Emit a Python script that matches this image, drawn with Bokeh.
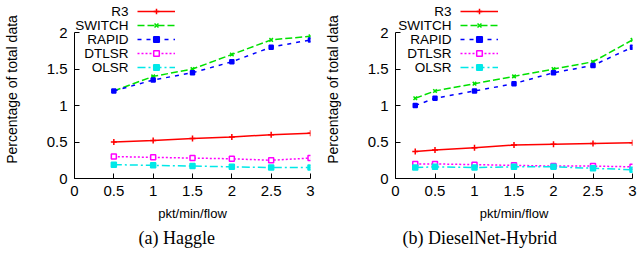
from bokeh.plotting import figure
from bokeh.layouts import row
from bokeh.models import (Range1d, FixedTicker, Legend, LegendItem, Label, Title,
                          CustomJSTickFormatter)
from bokeh.embed import file_html
from bokeh.resources import INLINE

# ---------------- data ----------------
series_names = ["R3", "SWITCH", "RAPID", "DTLSR", "OLSR"]

haggle_x = [0.5, 1, 1.5, 2, 2.5, 3]
haggle_r3 = [0.50, 0.52, 0.55, 0.57, 0.60, 0.62]
haggle_switch = [1.20, 1.40, 1.50, 1.70, 1.90, 1.95]
haggle_rapid = [1.20, 1.35, 1.45, 1.60, 1.80, 1.90]
haggle_dtlsr = [0.30, 0.29, 0.28, 0.27, 0.25, 0.28]
haggle_olsr = [0.19, 0.18, 0.17, 0.16, 0.15, 0.15]

diesel_x = [0.25, 0.5, 1, 1.5, 2, 2.5, 3]
diesel_r3 = [0.37, 0.39, 0.42, 0.46, 0.47, 0.48, 0.49]
diesel_switch = [1.10, 1.20, 1.30, 1.40, 1.50, 1.60, 1.90]
diesel_rapid = [1.00, 1.10, 1.20, 1.30, 1.45, 1.55, 1.80]
diesel_dtlsr = [0.20, 0.20, 0.19, 0.18, 0.17, 0.17, 0.16]
diesel_olsr = [0.15, 0.16, 0.15, 0.16, 0.16, 0.14, 0.12]

x_ticks = [0, 0.5, 1, 1.5, 2, 2.5, 3]
x_tick_labels = ["0", "0.5", "1", "1.5", "2", "2.5", "3"]
y_ticks = [0, 0.5, 1, 1.5, 2]
y_tick_labels = ["0", "0.5", "1", "1.5", "2"]

x_label = "pkt/min/flow"
y_label = "Percentage of total data"
captions = ["(a) Haggle", "(b) DieselNet-Hybrid"]

# ---------------- styles ----------------
styles = {
    "R3":     dict(color="#ff0000", dash="solid",   marker="cross",  size=6, fill="#ff0000"),
    "SWITCH": dict(color="#00e000", dash="7 3",     marker="x",      size=5, fill="#00e000"),
    "RAPID":  dict(color="#0000ff", dash="4 5",     marker="square", size=4, fill="#0000ff"),
    "DTLSR":  dict(color="#ff00ff", dash="2 2",     marker="square", size=5, fill="white"),
    "OLSR":   dict(color="#00e8e8", dash="8 3 2 3", marker="square", size=5, fill="#00e8e8"),
}

FONT = "Liberation Sans"
FIG_H = 258
FRAME_H = 178
Y_MAX = 2.44


def fmt(tick_vals, tick_texts):
    return CustomJSTickFormatter(
        args=dict(tick_vals=tick_vals, tick_texts=tick_texts),
        code="const i = tick_vals.findIndex(t => Math.abs(t - tick) < 1e-9); return i >= 0 ? tick_texts[i] : '';")


def make_panel(xs, values, caption, width, border_left, border_right,
               glyph_x, label_x, caption_offset):
    p = figure(width=width, height=FIG_H, output_backend="svg", toolbar_location=None,
               x_range=Range1d(0, 3), y_range=Range1d(0, Y_MAX),
               min_border_left=border_left, min_border_right=border_right,
               min_border_top=0, min_border_bottom=FIG_H - FRAME_H)
    p.outline_line_color = None
    p.grid.visible = False
    p.background_fill_color = "white"
    p.border_fill_color = "white"

    for ax, ticks, labels in ((p.xaxis[0], x_ticks, x_tick_labels),
                              (p.yaxis[0], y_ticks, y_tick_labels)):
        ax.ticker = FixedTicker(ticks=ticks)
        ax.formatter = fmt(ticks, labels)
        ax.major_tick_in = 5
        ax.major_tick_out = 0
        ax.minor_tick_line_color = None
        ax.axis_line_color = "black"
        ax.axis_line_width = 1
        ax.major_label_text_font = FONT
        ax.major_label_text_font_size = "15px"
        ax.major_label_text_color = "black"
        ax.axis_label_text_font = FONT
        ax.axis_label_text_font_style = "normal"
        ax.axis_label_text_color = "black"
    p.xaxis.bounds = (0, 3)
    p.yaxis.bounds = (0, 2)
    p.xaxis.axis_label = x_label
    p.xaxis.axis_label_text_font_size = "13px"
    p.xaxis.major_label_standoff = 7
    p.xaxis.axis_label_standoff = 7
    p.yaxis.axis_label = y_label
    p.yaxis.axis_label_text_font_size = "14px"
    p.yaxis.major_label_standoff = 7
    p.yaxis.axis_label_standoff = 24

    items = []
    for name, ys in zip(series_names, values):
        st = styles[name]
        lr = p.line(xs, ys, line_color=st["color"], line_width=1.5, line_dash=st["dash"])
        sr = p.scatter(xs, ys, marker=st["marker"], size=st["size"],
                       line_color=st["color"], fill_color=st["fill"], line_width=1.5)
        items.append(LegendItem(label=" ", renderers=[lr, sr]))

    row_h = 14
    leg_h = row_h * len(series_names)
    leg_bottom = FRAME_H - leg_h - 4
    legend = Legend(items=items, location=(glyph_x, leg_bottom), padding=0, margin=0,
                    spacing=0, glyph_width=38, glyph_height=row_h, label_height=row_h,
                    label_width=0, label_standoff=0, label_text_font_size="1px",
                    label_text_alpha=0, border_line_color=None, background_fill_alpha=0)
    p.add_layout(legend)

    for i, name in enumerate(series_names):
        p.add_layout(Label(x=label_x, y=leg_bottom + leg_h - row_h / 2 - row_h * i,
                           x_units="screen", y_units="screen", text=name,
                           text_align="right", text_baseline="middle",
                           text_font=FONT, text_font_size="13.5px", text_color="black"))

    t = Title(text=caption, align="left", offset=caption_offset,
              text_font="Liberation Serif", text_font_size="18px",
              text_font_style="normal", text_color="black", standoff=4)
    p.add_layout(t, "below")
    return p


p1 = make_panel(haggle_x,
                [haggle_r3, haggle_switch, haggle_rapid, haggle_dtlsr, haggle_olsr],
                captions[0], 318, 73, 8, 63, 54, 64)
p2 = make_panel(diesel_x,
                [diesel_r3, diesel_switch, diesel_rapid, diesel_dtlsr, diesel_olsr],
                captions[1], 319, 77, 5, 65, 56, 7)

layout = row(p1, p2)
open("out.html", "w").write(file_html(layout, INLINE))
